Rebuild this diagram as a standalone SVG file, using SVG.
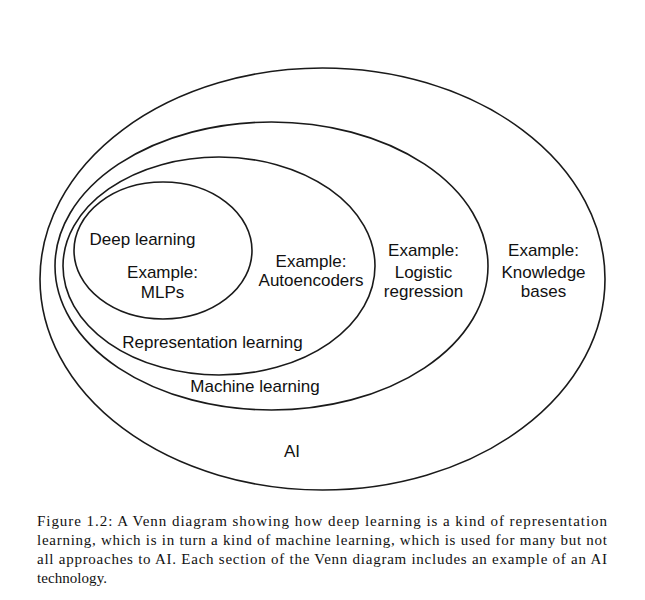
<svg xmlns="http://www.w3.org/2000/svg" width="645" height="600" viewBox="0 0 645 600">
<style>
.ring{fill:none;stroke:#1a1a1a;stroke-width:1.6}
.lbl{font-family:"Liberation Sans",Arial,Helvetica,sans-serif;font-size:17px;fill:#111;text-anchor:middle}
.cap{font-family:"Liberation Serif","Times New Roman",serif;font-size:15px;fill:#111}
</style>
<rect width="645" height="600" fill="#fff"/>
<g id="ai">
<ellipse class="ring" cx="322.5" cy="279" rx="282.5" ry="211"/>
<text class="lbl" x="292" y="457">AI</text>
<text class="lbl" x="543.5" y="256">Example:</text>
<text class="lbl" x="543.5" y="278">Knowledge</text>
<text class="lbl" x="543.5" y="297">bases</text>
</g>
<g id="machine-learning">
<ellipse class="ring" cx="271.5" cy="266" rx="216.5" ry="144"/>
<text class="lbl" x="255" y="392">Machine learning</text>
<text class="lbl" x="423.5" y="256">Example:</text>
<text class="lbl" x="423.5" y="278">Logistic</text>
<text class="lbl" x="423.5" y="297">regression</text>
</g>
<g id="representation-learning">
<ellipse class="ring" cx="219" cy="266" rx="156" ry="109"/>
<text class="lbl" x="212.5" y="348">Representation learning</text>
<text class="lbl" x="311" y="267">Example:</text>
<text class="lbl" x="311" y="286">Autoencoders</text>
</g>
<g id="deep-learning">
<ellipse class="ring" cx="163" cy="250.5" rx="89" ry="68.5"/>
<text class="lbl" x="142.5" y="245">Deep learning</text>
<text class="lbl" x="162.5" y="278">Example:</text>
<text class="lbl" x="162.5" y="298">MLPs</text>
</g>
<g id="connectors"></g>
<g id="caption">
<text class="cap" x="37" y="526" textLength="570" lengthAdjust="spacing">Figure 1.2: A Venn diagram showing how deep learning is a kind of representation</text>
<text class="cap" x="37" y="545" textLength="570" lengthAdjust="spacing">learning, which is in turn a kind of machine learning, which is used for many but not</text>
<text class="cap" x="37" y="564" textLength="570" lengthAdjust="spacing">all approaches to AI. Each section of the Venn diagram includes an example of an AI</text>
<text class="cap" x="37" y="583" textLength="70" lengthAdjust="spacing">technology.</text>
</g>
</svg>
